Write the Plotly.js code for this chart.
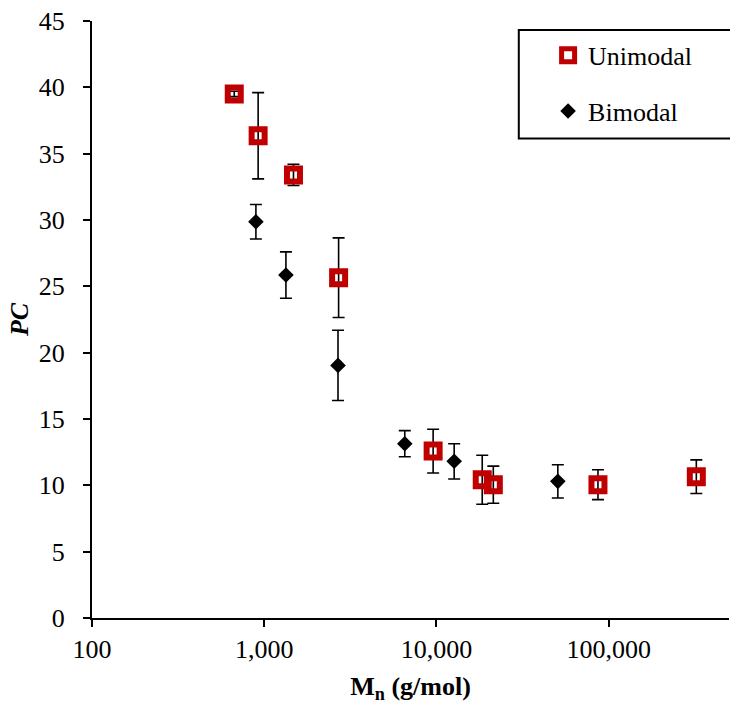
<!DOCTYPE html>
<html>
<head>
<meta charset="utf-8">
<script src="https://cdn.plot.ly/plotly-3.0.1.min.js"></script>
<style>
html,body{margin:0;padding:0;background:#fff;}
#chart{width:730px;height:704px;}
</style>
</head>
<body>
<div id="chart"></div>
<script>
// Unimodal series
const uniX = [670, 922, 1479, 2704, 9570, 18450, 21400, 86700, 323000];
const uniY = [39.5, 36.35, 33.4, 25.65, 12.58, 10.42, 10.05, 10.05, 10.65];
const uniErr = [0.2, 3.25, 0.8, 3.0, 1.65, 1.85, 1.4, 1.13, 1.27];
// Bimodal series
const bimX = [895, 1337, 2682, 6550, 12680, 50700];
const bimY = [29.87, 25.85, 19.04, 13.14, 11.81, 10.30];
const bimErr = [1.3, 1.75, 2.65, 0.98, 1.33, 1.25];
// tick labels
const xTickVals = [100, 1000, 10000, 100000];
const xTickText = ['100', '1,000', '10,000', '100,000'];
const xMinorVals = [];
[100, 1000, 10000, 100000].forEach(d => { for (let k = 2; k <= 9; k++) xMinorVals.push(d * k); });

const FONT = '"Liberation Serif", "Times New Roman", serif';
const FS = 26;

const traces = [
  {
    x: bimX, y: bimY, name: 'Bimodal', type: 'scatter', mode: 'markers',
    legendgroup: 'b', legendrank: 2,
    marker: {symbol: 'diamond', size: 12, color: '#000000'},
    error_y: {type: 'data', array: bimErr, visible: true, color: '#000000', thickness: 1.6, width: 6}
  },
  {
    x: uniX, y: uniY, name: 'Unimodal', type: 'scatter', mode: 'markers',
    legendgroup: 'a', legendrank: 1,
    marker: {symbol: 'square-open', size: 13, color: '#C00000', line: {color: '#C00000', width: 6}},
    error_y: {type: 'data', array: uniErr, visible: true, color: '#000000', thickness: 1.6, width: 6}
  }
];

const layout = {
  width: 730, height: 704,
  margin: {l: 92, r: 1, t: 21, b: 86},
  paper_bgcolor: '#fff', plot_bgcolor: '#fff',
  font: {family: FONT, size: FS, color: '#000'},
  showlegend: true,
  legend: {
    x: 0.716, y: 0.982, xanchor: 'left', yanchor: 'top',
    bgcolor: 'rgba(0,0,0,0)', borderwidth: 0,
    font: {family: FONT, size: FS, color: '#000'},
    traceorder: 'grouped', tracegroupgap: 19
  },
  shapes: [{
    type: 'rect', xref: 'paper', yref: 'paper',
    x0: 0.670, x1: 1.05, y0: 0.803, y1: 0.985,
    line: {color: '#000', width: 2}, fillcolor: 'rgba(0,0,0,0)', layer: 'above'
  }],
  xaxis: {
    type: 'log', range: [2, Math.log10(500000)],
    showgrid: false, zeroline: false,
    showline: true, linecolor: '#000', linewidth: 2,
    tickmode: 'array', tickvals: xTickVals, ticktext: xTickText,
    ticks: 'outside', ticklen: 7, tickwidth: 2, tickcolor: '#000',
    ticklabelstandoff: 0,
    tickfont: {family: FONT, size: FS, color: '#000'},
    title: {text: '<b>M<sub>n</sub> (g/mol)</b>', font: {family: FONT, size: FS, color: '#000'}, standoff: 16},
    automargin: false
  },
  xaxis2: {
    type: 'log', range: [2, Math.log10(500000)], overlaying: 'x', anchor: 'y', side: 'bottom',
    showgrid: false, zeroline: false, showline: false, showticklabels: false,
    tickmode: 'array', tickvals: xTickVals.concat(xMinorVals),
    ticks: 'inside', ticklen: 7, tickwidth: 1.5, tickcolor: '#000'
  },
  yaxis: {
    range: [0, 45], dtick: 5, tick0: 0,
    showgrid: false, zeroline: false,
    showline: true, linecolor: '#000', linewidth: 2,
    ticks: 'outside', ticklen: 7, tickwidth: 2, tickcolor: '#000',
    ticklabelstandoff: 13,
    tickfont: {family: FONT, size: FS, color: '#000'},
    title: {text: '<b><i>PC</i></b>', font: {family: FONT, size: FS, color: '#000'}, standoff: 3},
    automargin: false
  },
  yaxis2: {
    range: [0, 45], overlaying: 'y', anchor: 'x', side: 'left',
    showgrid: false, zeroline: false, showline: false, showticklabels: false,
    dtick: 1, tick0: 0,
    ticks: 'inside', ticklen: 7, tickwidth: 2, tickcolor: '#000'
  }
};

Plotly.newPlot('chart', traces, layout, {displayModeBar: false, staticPlot: true});
</script>
</body>
</html>
